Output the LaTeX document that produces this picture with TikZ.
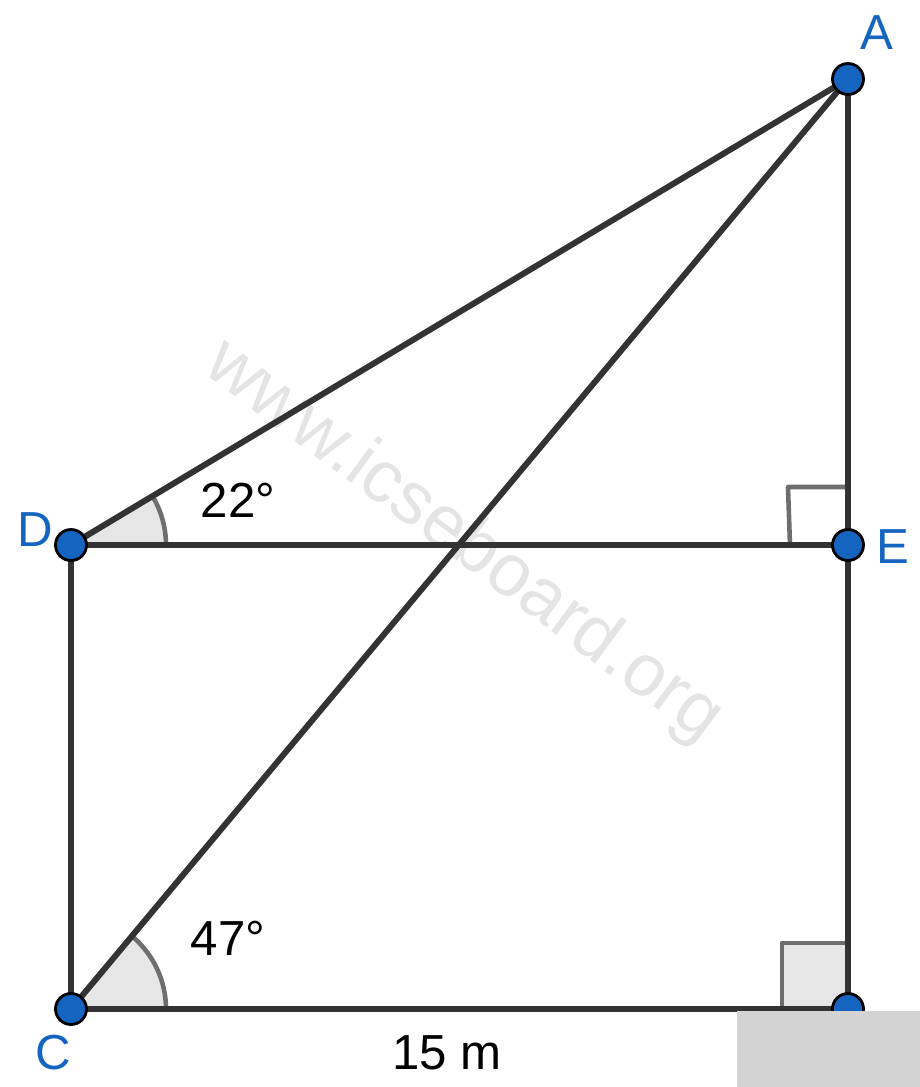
\documentclass[tikz,border=0pt]{standalone}
\usepackage{fontspec}
\setmainfont{Liberation Sans}
\usepackage{tikz}
\usetikzlibrary{calc}
\usetikzlibrary{positioning}

\definecolor{edgegray}{HTML}{333333}
\definecolor{ptblue}{HTML}{1565C0}
\definecolor{markgray}{HTML}{6E6E6E}
\definecolor{shadegray}{HTML}{E6E6E6}
\definecolor{wmgray}{HTML}{E4E4E4}
\definecolor{coverbox}{HTML}{D3D3D3}

\tikzset{
	side/.style={draw=edgegray,line width=1.7pt},
	pt/.style={circle,draw=black,fill=ptblue,line width=0.8pt,inner sep=0pt,minimum size=0.31cm},
	lbl/.style={text=ptblue,font=\fontsize{14}{16}\selectfont},
	val/.style={text=black,font=\fontsize{14}{16}\selectfont},
	rtmark/.style={draw=markgray,line width=1.3pt,line join=round}
}

\begin{document}
\begin{tikzpicture}
		\useasboundingbox (0,0) rectangle (9.2,-10.87);
		\coordinate (A) at (8.48,-0.79);
		\coordinate (D) at (0.71,-5.45);
		\coordinate (E) at (8.48,-5.45);
		\coordinate (C) at (0.71,-10.09);
		\coordinate (B) at (8.48,-10.09);
		% watermark
		\node[text=wmgray,rotate=-36.5,font=\fontsize{21}{24}\selectfont] (wm) at (4.63,-5.42) {www.icseboard.org};
		% angle marks
		\fill[shadegray] (D) -- ++(0.95,0) arc[start angle=0,end angle=31,radius=0.95] -- cycle;
		\draw[markgray,line width=1.3pt] ($(D)+(0.95,0)$) arc[start angle=0,end angle=31,radius=0.95];
		\fill[shadegray] (C) -- ++(0.95,0) arc[start angle=0,end angle=50.1,radius=0.95] -- cycle;
		\draw[markgray,line width=1.3pt] ($(C)+(0.95,0)$) arc[start angle=0,end angle=50.1,radius=0.95];
		\filldraw[rtmark,fill=shadegray] (B) -- ++(-0.66,0) -- ++(0,0.66) -- ++(0.66,0) -- cycle;
		\draw[rtmark] ($(E)+(-0.58,0)$) -- ++(-0.02,0.58) -- ++(0.60,0);
		% sides
		\draw[side] (C.center) -- (B.center) -- (E.center) -- (A.center);
		\draw[side] (C.center) -- (D.center) -- (E.center);
		\draw[side] (D.center) -- (A.center);
		\draw[side] (C.center) -- (A.center);
		% points
		\foreach \p in {A,D,E,C,B}
			\node[pt] (\p dot) at (\p) {};
		% labels
		\node[lbl] (Alab) at ($(A)+(0.29,0.46)$) {A};
		\node[lbl] (Dlab) at ($(D)+(-0.36,0.15)$) {D};
		\node[lbl] (Elab) at ($(E)+(0.45,-0.02)$) {E};
		\node[lbl] (Clab) at ($(C)+(-0.18,-0.44)$) {C};
		\node[val] (ang22) at (2.38,-5.00) {22°};
		\node[val] (ang47) at (2.28,-9.38) {47°};
		\node[val] (base) at (4.47,-10.53) {15 m};
		% box over the corner
		\fill[coverbox] (7.37,-10.11) rectangle (9.2,-10.87);
	\end{tikzpicture}
\end{document}
